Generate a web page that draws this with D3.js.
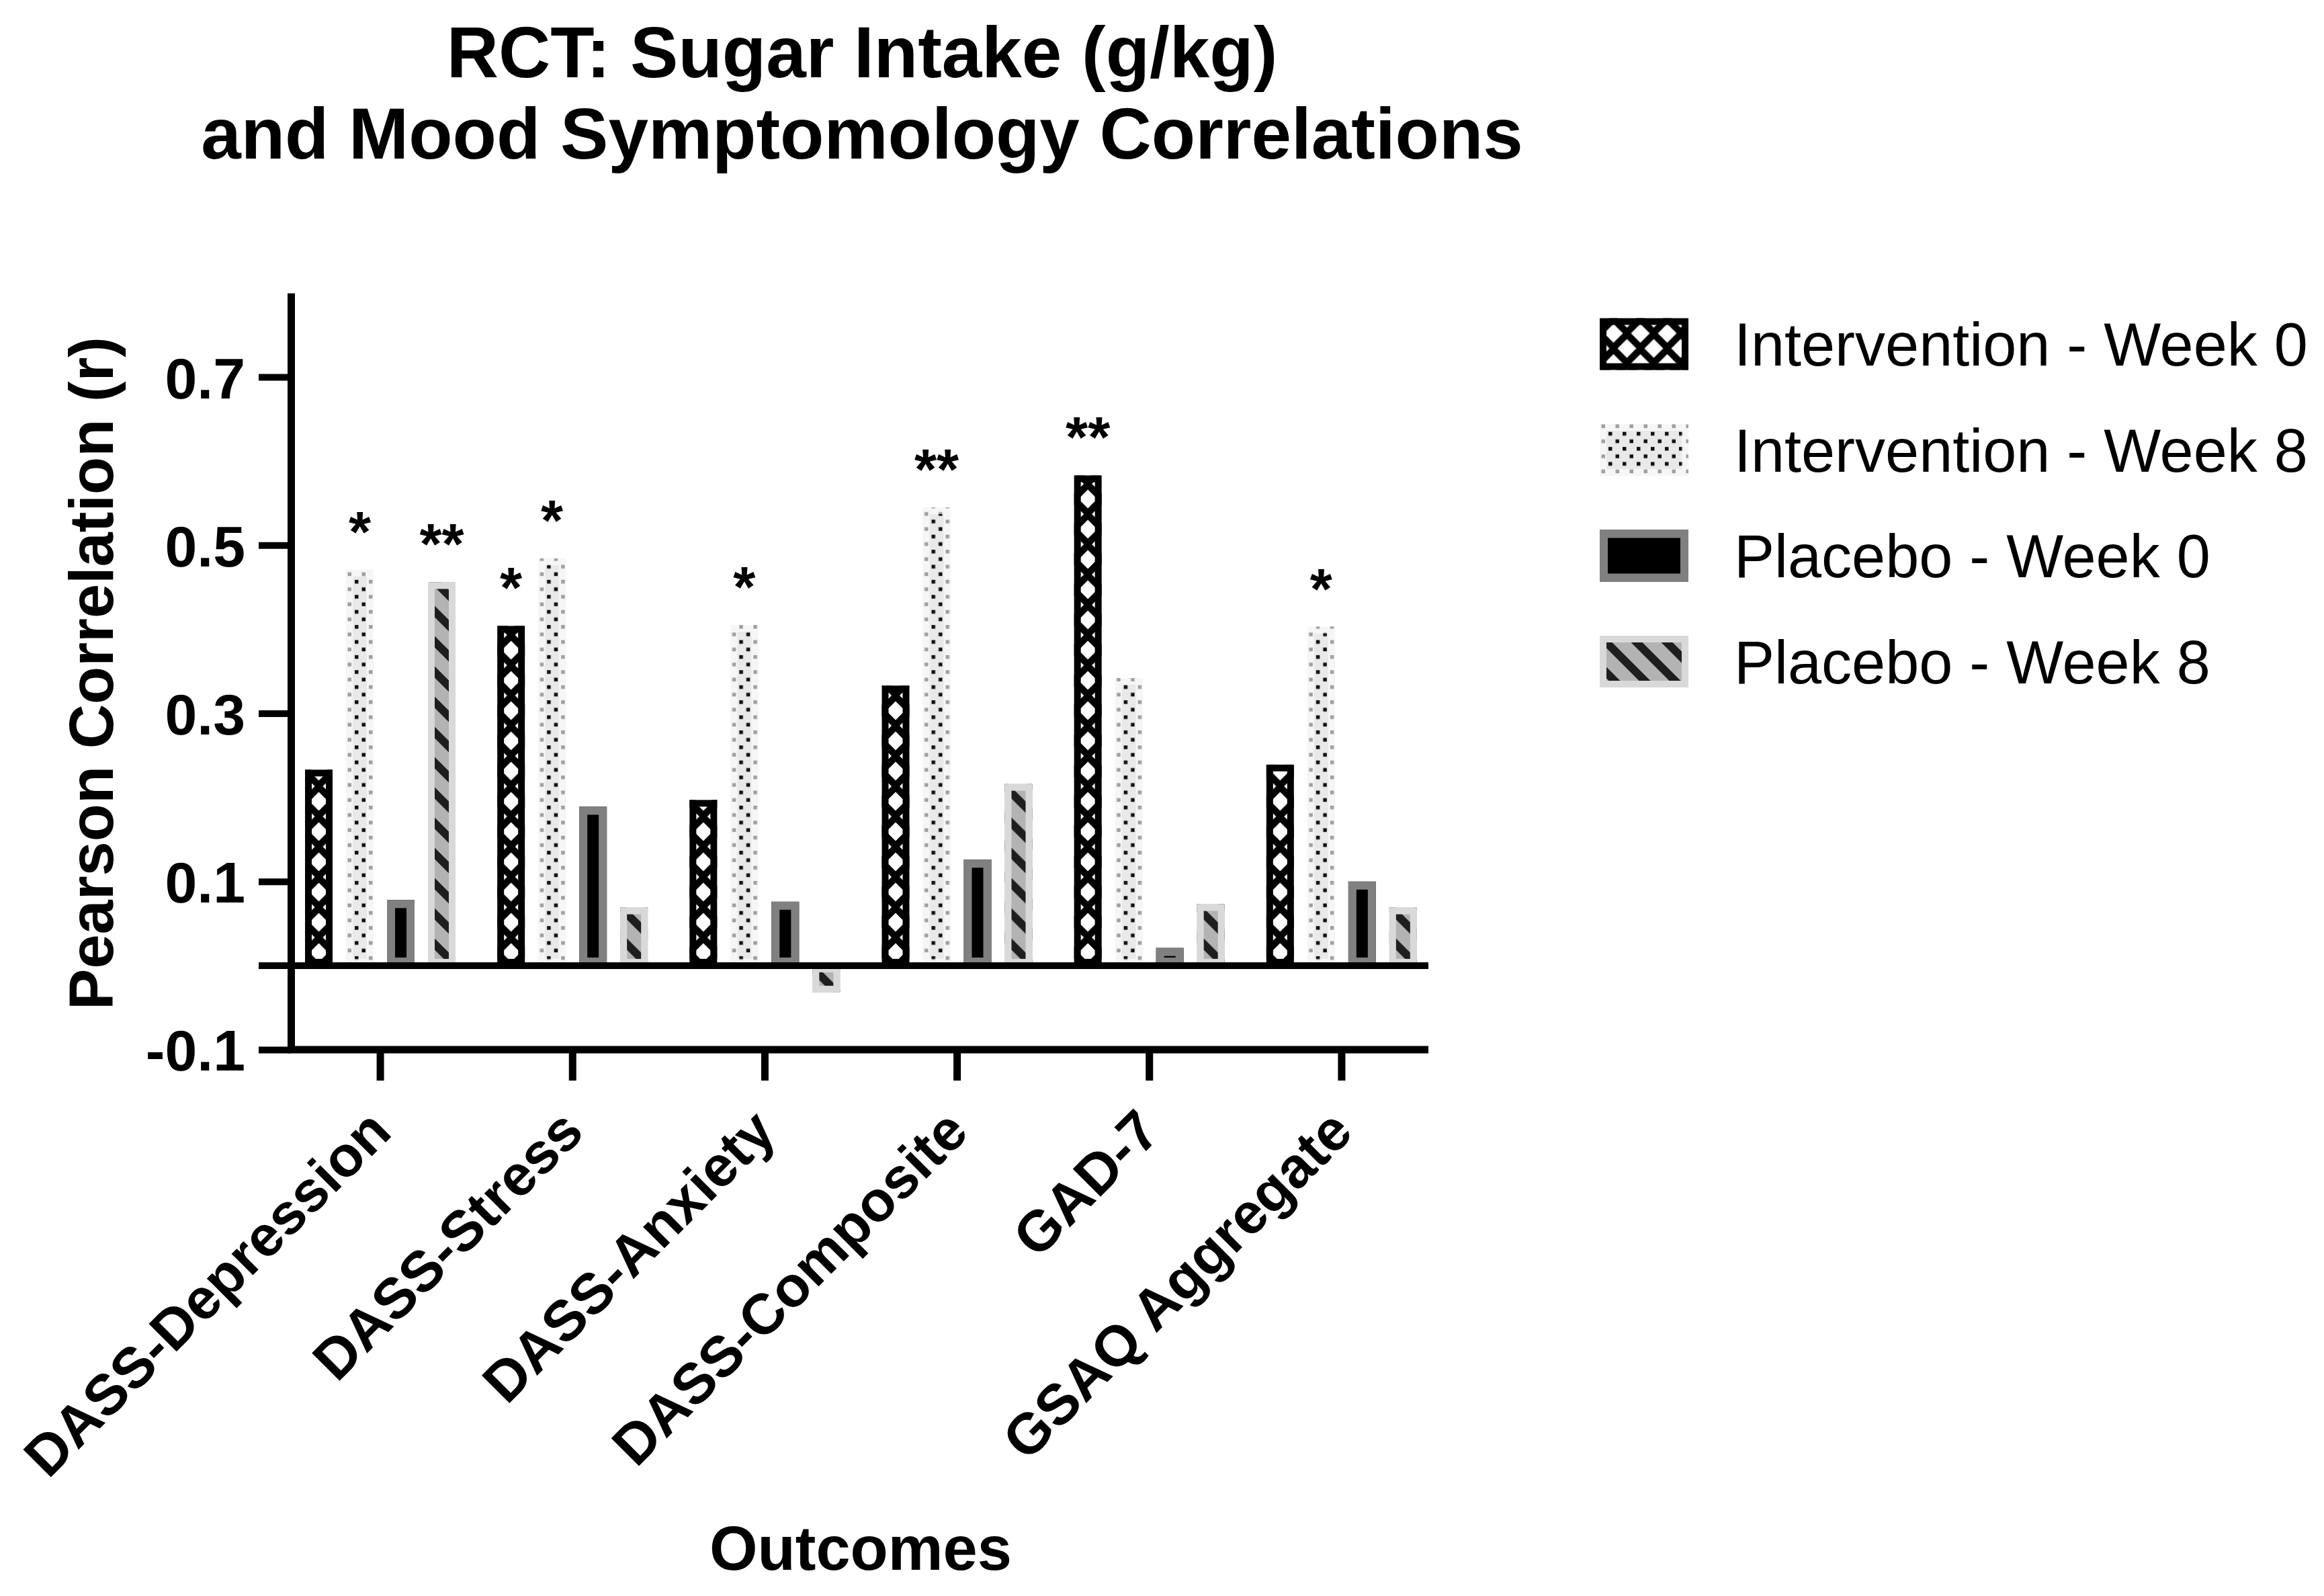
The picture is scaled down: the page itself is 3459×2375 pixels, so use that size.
<!DOCTYPE html>
<html>
<head>
<meta charset="utf-8">
<script src="https://cdn.jsdelivr.net/npm/d3@7"></script>
<style>
  body { margin: 0; background: #fff; }
  text { font-family: "Liberation Sans", Arial, Helvetica, sans-serif; }
</style>
</head>
<body>
<div id="chart"></div>
<script>
// Data
const categories = ["DASS-Depression", "DASS-Stress", "DASS-Anxiety", "DASS-Composite", "GAD-7", "GSAQ Aggregate"];
const seriesNames = ["Intervention - Week 0", "Intervention - Week 8", "Placebo - Week 0", "Placebo - Week 8"];
const interventionWeek0 = [0.233, 0.404, 0.197, 0.333, 0.583, 0.239];
const interventionWeek8 = [0.471, 0.484, 0.405, 0.545, 0.342, 0.403];
const placeboWeek0 = [0.078, 0.189, 0.076, 0.126, 0.021, 0.100];
const placeboWeek8 = [0.456, 0.069, -0.032, 0.216, 0.073, 0.069];
// significance markers above bars
const interventionWeek0Stars = ["", "*", "", "", "**", ""];
const interventionWeek8Stars = ["*", "*", "*", "**", "", "*"];
const placeboWeek0Stars = ["", "", "", "", "", ""];
const placeboWeek8Stars = ["**", "", "", "", "", ""];
const yTicks = [-0.1, 0.1, 0.3, 0.5, 0.7];

const width = 3459, height = 2375;

//Bar looks, one per series (fill + inset border)
const looks = [
  {fill: "url(#pIntW0)", stroke: "#000", border: 10},
  {fill: "url(#pIntW8)", stroke: "rgba(255,255,255,0.6)", border: 10},
  {fill: "#000", stroke: "#808080", border: 12},
  {fill: "url(#pPlacW8)", stroke: "#d9d9d9", border: 10}
];
const seriesValues = [interventionWeek0, interventionWeek8, placeboWeek0, placeboWeek8];
const seriesStars = [interventionWeek0Stars, interventionWeek8Stars, placeboWeek0Stars, placeboWeek8Stars];

const svg = d3.select("#chart")
  .append("svg")
  .attr("width", width)
  .attr("height", height);

svg.append("rect").attr("width", width).attr("height", height).attr("fill", "#fff");

//Patterns
const defs = svg.append("defs");

const pIntW0 = defs.append("pattern")
  .attr("id", "pIntW0")
  .attr("patternUnits", "userSpaceOnUse")
  .attr("x", 0.5).attr("y", 0)
  .attr("width", 40).attr("height", 45);
pIntW0.append("rect").attr("width", 40).attr("height", 45).attr("fill", "#000");
[[20, 22.5], [0, 0], [40, 0], [0, 45], [40, 45]].forEach(([cx, cy]) => {
  pIntW0.append("polygon")
    .attr("points", `${cx},${cy - 14} ${cx + 14},${cy} ${cx},${cy + 14} ${cx - 14},${cy}`)
    .attr("fill", "#fff");
});

const pIntW8 = defs.append("pattern")
  .attr("id", "pIntW8")
  .attr("patternUnits", "userSpaceOnUse")
  .attr("width", 21).attr("height", 22.4);
pIntW8.append("rect").attr("width", 21).attr("height", 22.4).attr("fill", "#e9e9e9");
pIntW8.append("rect").attr("x", 2.5).attr("y", 0.5).attr("width", 5.5).attr("height", 5.5).attr("fill", "#111");
pIntW8.append("rect").attr("x", 13).attr("y", 11.7).attr("width", 5.5).attr("height", 5.5).attr("fill", "#111");

const pPlacW8 = defs.append("pattern")
  .attr("id", "pPlacW8")
  .attr("patternUnits", "userSpaceOnUse")
  .attr("width", 45).attr("height", 45);
pPlacW8.append("rect").attr("width", 45).attr("height", 45).attr("fill", "#b3b3b3");
pPlacW8.append("path")
  .attr("d", "M-10,-10 L55,55 M-10,35 L10,55 M35,-10 L55,10")
  .attr("stroke", "#1e1e1e")
  .attr("stroke-width", 12);

//Scales
const x0 = d3.scaleBand()
  .domain(categories)
  .range([423, 2140]);

const x1 = d3.scaleBand()
  .domain(seriesNames)
  .range([31, 255])
  .paddingInner(0.328);

const y = d3.scaleLinear()
  .domain([-0.1, 0.8])
  .range([1562, 436]);

//Bars
const groups = svg.append("g")
  .selectAll("g")
  .data(categories)
  .join("g")
  .attr("transform", d => `translate(${x0(d)},0)`);

groups.each(function (cat, ci) {
  const g = d3.select(this);
  seriesNames.forEach((name, si) => {
    const v = seriesValues[si][ci];
    const look = looks[si];
    const bw = x1.bandwidth();
    const top = y(Math.max(0, v));
    const bot = y(Math.min(0, v));
    const b = g.append("g").attr("transform", `translate(${x1(name)},0)`);
    b.append("rect")
      .attr("x", 0).attr("y", top)
      .attr("width", bw).attr("height", bot - top)
      .attr("fill", look.fill);
    b.append("rect")
      .attr("x", look.border / 2).attr("y", top + look.border / 2)
      .attr("width", bw - look.border)
      .attr("height", Math.max(0, bot - top - look.border))
      .attr("fill", "none")
      .attr("stroke", look.stroke)
      .attr("stroke-width", look.border);
    const star = seriesStars[si][ci];
    if (star) {
      b.append("text")
        .attr("x", bw / 2)
        .attr("y", top - 27)
        .attr("text-anchor", "middle")
        .attr("font-size", 85)
        .attr("font-weight", "bold")
        .text(star);
    }
  });
});

//Zero line
svg.append("line")
  .attr("x1", 385).attr("x2", 2126)
  .attr("y1", y(0)).attr("y2", y(0))
  .attr("stroke", "#000")
  .attr("stroke-width", 10);

//Y axis
const yAxisG = svg.append("g")
  .attr("transform", "translate(433,0)")
  .call(d3.axisLeft(y)
    .tickValues(yTicks)
    .tickSize(48)
    .tickSizeOuter(0)
    .tickPadding(20)
    .tickFormat(d => d3.format(".1f")(d).replace("\u2212", "-")));
yAxisG.select(".domain").attr("stroke-width", 11);
yAxisG.selectAll(".tick line").attr("stroke-width", 10);
yAxisG.selectAll(".tick text")
  .attr("font-size", 86)
  .attr("font-weight", "bold")
  .attr("dy", "0.36em");
yAxisG.attr("font-family", null).attr("font-size", null);

//X axis (bottom line at -0.1)
svg.append("line")
  .attr("x1", 428).attr("x2", 2126)
  .attr("y1", y(-0.1)).attr("y2", y(-0.1))
  .attr("stroke", "#000")
  .attr("stroke-width", 11);

const xAxisG = svg.append("g")
  .attr("transform", `translate(0,${y(-0.1)})`)
  .call(d3.axisBottom(x0).tickSize(46).tickSizeOuter(0));
xAxisG.select(".domain").remove();
xAxisG.attr("font-family", null).attr("font-size", null);
xAxisG.selectAll(".tick line").attr("stroke-width", 11);
xAxisG.selectAll(".tick text")
  .attr("x", null).attr("y", null).attr("dy", null)
  .attr("text-anchor", "end")
  .attr("font-size", 85)
  .attr("font-weight", "bold")
  .attr("transform", `translate(20,${1688 - y(-0.1)}) rotate(-45)`);

//Axis titles
svg.append("text")
  .attr("transform", "translate(168,1002) rotate(-90)")
  .attr("text-anchor", "middle")
  .attr("font-size", 92)
  .attr("font-weight", "bold")
  .text("Pearson Correlation (r)");

svg.append("text")
  .attr("x", 1281).attr("y", 2336)
  .attr("text-anchor", "middle")
  .attr("font-size", 92)
  .attr("font-weight", "bold")
  .text("Outcomes");

//Chart title
const title = svg.append("text")
  .attr("text-anchor", "middle")
  .attr("font-size", 107)
  .attr("font-weight", "bold");
title.append("tspan").attr("x", 1283).attr("y", 115).text("RCT: Sugar Intake (g/kg)");
title.append("tspan").attr("x", 1283).attr("y", 236).text("and Mood Symptomology Correlations");

//Legend
const legend = svg.append("g")
  .selectAll("g")
  .data(seriesNames)
  .join("g")
  .attr("transform", (d, i) => `translate(2381,${473.5 + i * 157.5})`);

legend.each(function (name, i) {
  const g = d3.select(this);
  const look = looks[i];
  g.append("rect")
    .attr("width", 132).attr("height", 77)
    .attr("fill", look.fill);
  g.append("rect")
    .attr("x", look.border / 2).attr("y", look.border / 2)
    .attr("width", 132 - look.border).attr("height", 77 - look.border)
    .attr("fill", "none")
    .attr("stroke", look.stroke)
    .attr("stroke-width", look.border);
  g.append("text")
    .attr("x", 200).attr("y", 70.5)
    .attr("font-size", 90)
    .text(name);
});
</script>
</body>
</html>
